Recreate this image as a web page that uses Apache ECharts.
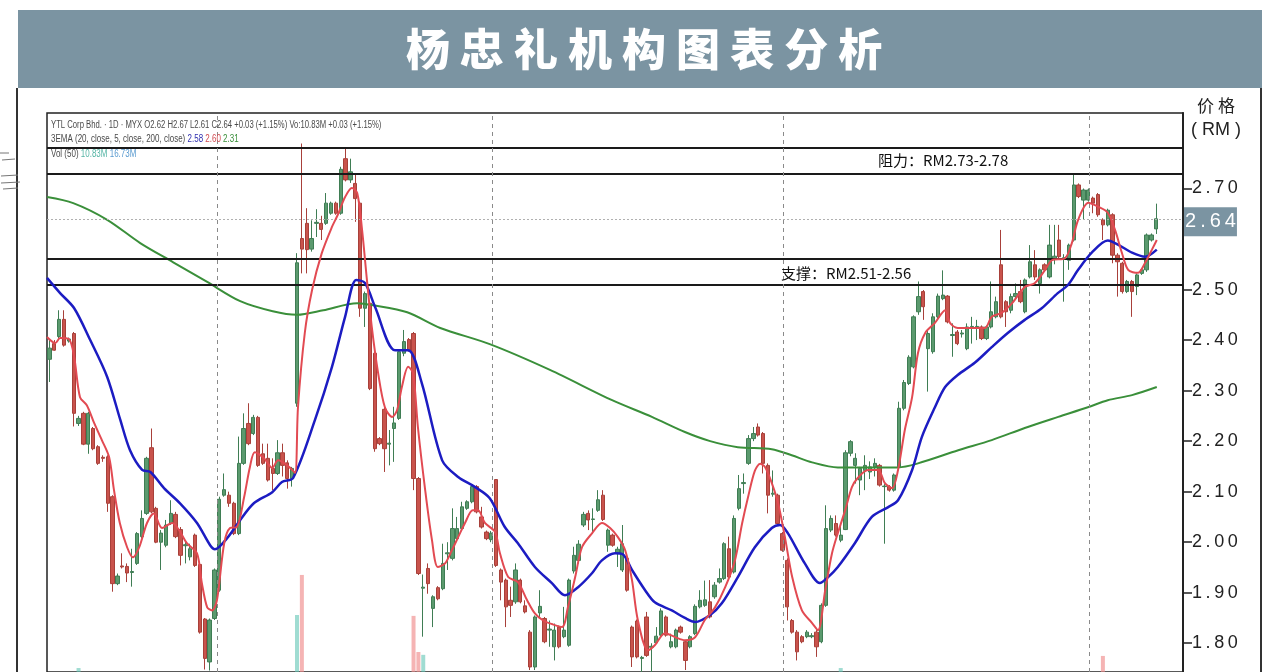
<!DOCTYPE html>
<html><head><meta charset="utf-8">
<script src="https://cdn.jsdelivr.net/npm/echarts@6/dist/echarts.min.js"></script>
<style>html,body{margin:0;padding:0;background:#fff;}#c{width:1280px;height:672px;}</style>
</head><body><div id="c"></div>
<script>
// ---- data ----
const slotCount = 234; // 229 daily candles + empty right margin
const priceTicks = [1.8, 1.9, 2.0, 2.1, 2.2, 2.3, 2.4, 2.5, 2.7];
const resistance = [2.73, 2.78];
const support = [2.51, 2.56];
const lastPrice = 2.64;
const periodLines = [34.5, 91.2, 151.1, 214.1];
// [open, close, low, high]
const candles = [
[2.362,2.384,2.317,2.400],[2.393,2.380,2.379,2.400],[2.407,2.441,2.403,2.459],[2.441,2.390,2.387,2.459],
[2.398,2.402,2.395,2.405],[2.413,2.255,2.229,2.416],[2.235,2.245,2.230,2.250],[2.255,2.194,2.192,2.258],
[2.194,2.255,2.175,2.258],[2.225,2.185,2.182,2.228],[2.189,2.156,2.153,2.192],[2.168,2.166,2.159,2.172],
[2.169,2.077,2.060,2.172],[2.090,1.918,1.902,2.093],[1.918,1.933,1.915,1.938],[1.953,1.951,1.948,1.978],
[1.952,1.939,1.921,1.958],[1.940,1.942,1.912,1.987],[1.958,2.017,1.955,2.020],[2.011,2.047,2.008,2.063],
[2.057,2.166,2.054,2.169],[2.187,2.060,2.057,2.225],[2.067,2.000,1.998,2.070],[2.000,2.018,1.945,2.024],
[1.994,2.034,1.990,2.044],[2.037,2.057,2.034,2.083],[2.055,2.011,2.008,2.060],[2.025,1.974,1.954,2.030],
[1.993,1.995,1.958,2.004],[1.971,1.987,1.964,1.997],[2.014,1.954,1.951,2.017],[1.956,1.822,1.819,1.961],
[1.848,1.770,1.748,1.850],[1.763,1.846,1.746,1.849],[1.849,1.945,1.846,1.948],[1.905,2.085,1.902,2.090],
[2.093,2.104,2.090,2.136],[2.093,2.077,2.070,2.100],[2.077,2.017,2.014,2.080],[2.017,2.156,2.014,2.209],
[2.156,2.225,2.153,2.255],[2.235,2.195,2.192,2.275],[2.215,2.247,2.212,2.252],[2.247,2.152,2.149,2.250],
[2.175,2.156,2.153,2.195],[2.166,2.123,2.120,2.195],
[2.146,2.136,2.103,2.166],[2.136,2.177,2.133,2.202],[2.177,2.152,2.130,2.195],[2.157,2.126,2.106,2.162],
[2.126,2.146,2.110,2.149],[2.275,2.553,2.268,2.572],[2.601,2.580,2.532,2.789],[2.631,2.579,2.532,2.661],
[2.580,2.601,2.575,2.637],[2.631,2.633,2.604,2.659],[2.631,2.619,2.598,2.646],[2.631,2.671,2.628,2.691],
[2.651,2.671,2.648,2.674],[2.671,2.651,2.648,2.674],[2.651,2.738,2.648,2.743],[2.759,2.717,2.714,2.779],
[2.717,2.733,2.711,2.759],[2.710,2.680,2.634,2.730],[2.671,2.463,2.446,2.674],[2.463,2.492,2.426,2.496],
[2.473,2.304,2.301,2.476],[2.374,2.185,2.179,2.377],[2.205,2.195,2.192,2.208],[2.263,2.185,2.139,2.268],
[2.194,2.196,2.152,2.222],[2.225,2.236,2.159,2.268],[2.245,2.377,2.242,2.380],[2.374,2.397,2.368,2.420],
[2.401,2.380,2.377,2.404],[2.413,2.126,2.103,2.416],[2.126,1.938,1.935,2.129],[1.909,1.911,1.813,1.936],
[1.948,1.918,1.898,1.958],[1.869,1.892,1.832,1.895],[1.910,1.888,1.885,1.913],[1.908,1.958,1.905,1.997],
[1.977,1.979,1.945,2.000],[1.968,2.027,1.964,2.067],[2.007,2.027,2.004,2.050],[2.027,2.070,2.024,2.080],
[2.067,2.080,2.064,2.083],[2.080,2.110,2.077,2.113],[2.110,2.060,2.057,2.113],[2.050,2.030,2.027,2.070],
[2.020,2.007,2.004,2.023],
[2.005,2.018,2.000,2.022],[2.124,1.954,1.951,2.125],[1.945,1.921,1.885,1.948],[1.925,1.872,1.832,1.928],
[1.885,1.875,1.852,1.912],[1.882,1.945,1.878,1.958],[1.925,1.882,1.879,1.928],[1.874,1.862,1.859,1.885],
[1.822,1.753,1.747,1.826],[1.753,1.852,1.747,1.855],[1.860,1.873,1.852,1.905],[1.849,1.803,1.800,1.852],
[1.826,1.828,1.793,1.845],[1.793,1.826,1.766,1.839],[1.832,1.793,1.790,1.835],[1.813,1.826,1.810,1.872],
[1.796,1.925,1.793,1.928],[1.943,1.974,1.938,1.991],[1.964,1.996,1.958,2.004],[2.034,2.055,2.030,2.060],
[2.057,2.044,2.024,2.063],[2.045,2.046,2.017,2.067],[2.063,2.084,2.060,2.103],[2.093,2.045,2.042,2.103],
[1.994,2.024,1.981,2.027],[2.014,1.994,1.991,2.017],[1.978,1.986,1.951,1.991],[1.945,1.997,1.941,2.034],
[1.968,1.905,1.902,1.971],[1.832,1.773,1.753,1.835],[1.844,1.773,1.770,1.847],[1.770,1.772,1.743,1.775],
[1.852,1.776,1.773,1.862],[1.792,1.794,1.743,1.800],[1.801,1.814,1.800,1.832],[1.816,1.864,1.813,1.869],
[1.852,1.816,1.813,1.855],[1.793,1.803,1.790,1.819],[1.793,1.826,1.790,1.829],[1.832,1.822,1.819,1.835],
[1.803,1.766,1.747,1.806],[1.793,1.813,1.790,1.816],[1.819,1.873,1.816,1.877],[1.872,1.885,1.869,1.905],
[1.875,1.886,1.872,1.924],
[1.882,1.852,1.849,1.925],[1.892,1.915,1.888,1.921],[1.921,1.928,1.918,1.948],[1.928,1.997,1.925,2.000],
[1.987,1.931,1.928,2.011],[1.941,2.047,1.938,2.053],[2.067,2.106,2.063,2.133],[2.116,2.118,2.096,2.136],
[2.156,2.205,2.153,2.212],[2.205,2.215,2.200,2.228],[2.228,2.212,2.209,2.235],[2.215,2.156,2.136,2.218],
[2.152,2.093,2.057,2.156],[2.095,2.097,2.090,2.142],[2.093,2.037,2.034,2.096],[2.017,1.984,1.981,2.020],
[1.964,1.872,1.845,1.968],[1.845,1.822,1.819,1.848],[1.822,1.783,1.766,1.826],[1.813,1.803,1.800,1.816],
[1.813,1.822,1.810,1.826],[1.813,1.815,1.810,1.820],[1.822,1.793,1.773,1.826],[1.803,1.875,1.800,1.879],
[1.875,2.027,1.872,2.073],[2.024,2.047,2.020,2.053],[2.037,2.014,2.011,2.053],[2.004,2.014,2.000,2.037],
[2.025,2.177,2.024,2.182],[2.176,2.199,2.170,2.202],[2.152,2.166,2.116,2.176],[2.123,2.146,2.093,2.149],
[2.142,2.152,2.103,2.172],[2.139,2.149,2.125,2.160],[2.149,2.156,2.130,2.166],[2.152,2.113,2.110,2.155],
[2.110,2.111,1.997,2.115],[2.110,2.103,2.100,2.113],[2.103,2.133,2.100,2.136],[2.149,2.265,2.146,2.278],
[2.265,2.316,2.261,2.321],[2.314,2.366,2.311,2.370],[2.347,2.446,2.344,2.449],[2.456,2.486,2.450,2.516],
[2.496,2.466,2.440,2.499],[2.383,2.413,2.298,2.420],
[2.377,2.446,2.373,2.453],[2.446,2.487,2.443,2.492],[2.482,2.489,2.479,2.538],[2.487,2.436,2.433,2.489],
[2.409,2.411,2.367,2.433],[2.416,2.393,2.390,2.420],[2.412,2.414,2.405,2.420],[2.383,2.426,2.380,2.433],
[2.425,2.427,2.393,2.446],[2.425,2.427,2.400,2.440],[2.426,2.403,2.400,2.429],[2.403,2.426,2.400,2.429],
[2.426,2.456,2.423,2.516],[2.446,2.476,2.443,2.486],[2.549,2.446,2.443,2.618],[2.476,2.456,2.426,2.479],
[2.459,2.486,2.453,2.492],[2.486,2.492,2.483,2.512],[2.496,2.476,2.473,2.519],[2.456,2.519,2.453,2.522],
[2.525,2.555,2.522,2.588],[2.549,2.525,2.519,2.578],[2.512,2.539,2.492,2.542],[2.549,2.539,2.536,2.552],
[2.525,2.588,2.522,2.628],[2.560,2.566,2.550,2.628],[2.598,2.565,2.562,2.628],[2.561,2.563,2.476,2.570],
[2.558,2.588,2.539,2.591],[2.598,2.707,2.595,2.730],[2.707,2.684,2.681,2.710],[2.677,2.697,2.638,2.700],
[2.677,2.697,2.674,2.700],[2.681,2.671,2.651,2.684],[2.688,2.648,2.644,2.691],[2.638,2.628,2.598,2.641],
[2.628,2.657,2.625,2.660],[2.648,2.568,2.552,2.651],[2.568,2.555,2.486,2.572],[2.552,2.496,2.492,2.555],
[2.496,2.516,2.493,2.519],[2.516,2.496,2.446,2.519],[2.506,2.529,2.489,2.532],[2.532,2.539,2.529,2.542],
[2.539,2.608,2.535,2.611],[2.598,2.608,2.595,2.611],[2.620,2.640,2.610,2.670]
];
// EMA readings: [bar position, value]
const ema5 = [[-0.5,2.406],[1.2,2.394],[2.2,2.404],[4.0,2.402],[5.1,2.366],[6.3,2.287],[7.7,2.271],[9.2,2.236],[10.8,2.202],[12.3,2.168],[13.3,2.103],[14.5,2.038],[16.0,1.990],[17.2,1.970],[18.5,1.990],[20.1,2.038],[21.5,2.057],[23.2,2.028],[25.3,2.038],[26.7,2.024],[28.3,1.998],[30.4,1.978],[31.4,1.919],[32.5,1.871],[33.5,1.865],[34.5,1.885],[36.0,1.998],[37.2,2.028],[38.6,2.030],[40.1,2.089],[41.3,2.149],[42.3,2.178],[44.2,2.166],[45.9,2.147],[47.1,2.162],[49.6,2.147],[50.6,2.137],[51.2,2.267],[52.6,2.414],[54.1,2.499],[56.1,2.572],[58.2,2.624],[59.4,2.648],[60.9,2.683],[62.3,2.701],[63.4,2.691],[64.4,2.618],[65.4,2.519],[66.4,2.426],[67.7,2.335],[69.1,2.267],[70.6,2.248],[71.6,2.261],[72.6,2.307],[73.9,2.347],[74.9,2.335],[75.9,2.228],[77.4,2.103],[78.8,2.004],[80.0,1.951],[81.5,1.958],[82.9,1.984],[84.2,2.010],[85.6,2.038],[87.2,2.063],[88.3,2.063],[89.7,2.038],[91.8,2.020],[92.8,1.978],[94.5,1.931],[96.5,1.921],[98.4,1.885],[100.0,1.859],[101.7,1.845],[103.5,1.838],[105.6,1.832],[106.8,1.871],[108.3,1.931],[109.7,1.990],[111.8,2.018],[113.8,2.038],[115.5,2.028],[117.1,2.010],[118.6,1.984],[120.0,1.925],[121.2,1.846],[123.3,1.786],[124.7,1.796],[126.8,1.820],[128.9,1.812],[130.9,1.806],[133.0,1.812],[135.0,1.846],[137.1,1.871],[139.2,1.911],[141.2,1.964],[142.7,2.038],[143.9,2.089],[145.3,2.141],[146.4,2.155],[147.4,2.149],[148.8,2.117],[150.1,2.077],[151.5,2.010],[153.0,1.931],[155.0,1.865],[157.1,1.840],[158.3,1.826],[159.8,1.905],[161.2,1.978],[162.4,2.018],[163.9,2.063],[165.3,2.109],[166.5,2.127],[168.6,2.143],[170.7,2.143],[172.1,2.117],[173.6,2.107],[174.8,2.143],[176.2,2.222],[177.7,2.287],[178.9,2.374],[180.4,2.414],[182.4,2.434],[184.5,2.459],[185.5,2.434],[187.1,2.424],[190.0,2.424],[192.7,2.424],[194.1,2.446],[196.2,2.454],[198.3,2.473],[200.9,2.505],[203.0,2.513],[205.1,2.539],[206.5,2.558],[209.2,2.562],[210.6,2.592],[211.9,2.638],[214.0,2.672],[216.0,2.664],[218.0,2.652],[219.5,2.618],[220.9,2.573],[222.2,2.539],[224.2,2.533],[225.7,2.553],[227.1,2.579],[228.1,2.598]];
const ema20 = [[-0.5,2.523],[2.2,2.493],[5.1,2.463],[8.4,2.400],[11.9,2.327],[14.6,2.242],[16.6,2.182],[19.1,2.143],[20.8,2.139],[23.6,2.107],[26.9,2.077],[30.4,2.038],[33.1,1.994],[34.1,1.986],[36.6,2.008],[39.3,2.044],[42.1,2.077],[45.9,2.099],[47.9,2.119],[50.2,2.127],[54.7,2.242],[58.2,2.347],[60.9,2.446],[63.2,2.519],[65.0,2.513],[67.1,2.465],[71.2,2.380],[73.9,2.380],[76.7,2.315],[80.9,2.162],[84.2,2.129],[87.7,2.109],[90.7,2.087],[93.8,2.030],[96.5,1.998],[100.0,1.951],[103.5,1.919],[106.2,1.895],[108.9,1.911],[111.8,1.939],[113.8,1.964],[116.5,1.978],[118.1,1.976],[120.0,1.945],[122.7,1.905],[124.7,1.881],[128.2,1.865],[130.9,1.850],[133.0,1.842],[136.1,1.856],[138.5,1.879],[141.8,1.931],[145.3,1.990],[148.8,2.028],[150.5,2.034],[152.1,2.018],[155.6,1.958],[158.7,1.919],[160.4,1.931],[162.4,1.951],[165.9,1.998],[169.4,2.050],[172.7,2.069],[174.8,2.083],[177.7,2.143],[179.7,2.208],[182.4,2.267],[184.5,2.307],[187.1,2.331],[190.6,2.355],[194.1,2.386],[197.4,2.414],[200.9,2.440],[204.4,2.463],[207.7,2.493],[209.8,2.509],[211.9,2.539],[214.7,2.573],[218.0,2.597],[220.1,2.589],[223.0,2.573],[225.7,2.565],[228.1,2.579]];
const ema200 = [[-0.5,2.683],[4.9,2.671],[11.9,2.638],[18.7,2.592],[25.5,2.554],[32.5,2.515],[39.3,2.477],[46.0,2.457],[51.0,2.450],[56.4,2.459],[63.4,2.473],[66.7,2.469],[73.7,2.455],[80.5,2.424],[90.7,2.392],[103.1,2.341],[115.9,2.281],[124.1,2.248],[130.9,2.218],[136.1,2.200],[141.8,2.188],[148.8,2.184],[152.9,2.172],[157.1,2.158],[162.4,2.148],[169.4,2.148],[174.8,2.148],[178.9,2.156],[187.2,2.182],[194.1,2.202],[200.9,2.226],[207.8,2.248],[213.9,2.267],[218.0,2.281],[223.0,2.291],[228.1,2.307]];
// visible volume bars (millions): [bar, volume]
const volUp = [[6,14.5],[51,38.6],[77,20.5],[163,14.5]];
const volDown = [[52,56.8],[75,38.2],[76,21.8],[217,20.0]];

// ---- chart ----
const categories = Array.from({length: slotCount}, (_, i) => String(i));
const spaced = s => s.split('').join('\u2009');
const FONT = '"Liberation Sans", Arial, sans-serif';
const chart = echarts.init(document.getElementById('c'), null, {renderer: 'canvas'});
const hLine = (v) => ({yAxis: v, lineStyle: {color: '#1a1a1a', width: 2, type: 'solid'}, label: {show: false}});
const infoStyle = {fill: '#4a4a4a', fontSize: 10, fontFamily: FONT, textVerticalAlign: 'middle'};
const rich = c => ({fill: c, fontSize: 10, fontFamily: FONT});
const scrap = (x1, y1, x2, y2) => ({type: 'line', shape: {x1, y1, x2, y2}, style: {stroke: '#777', lineWidth: 1}, z: 10});

chart.setOption({
  animation: false,
  backgroundColor: '#ffffff',
  grid: [
    {left: 47, right: 97, top: 113, bottom: 0, show: true, borderColor: '#222', borderWidth: 1.5, backgroundColor: 'transparent'},
    {left: 47, right: 97, top: 400, bottom: 0}
  ],
  xAxis: [
    {type: 'category', data: categories, gridIndex: 0, boundaryGap: true, show: false},
    {type: 'value', min: -0.5, max: slotCount - 0.5, gridIndex: 0, show: false},
    {type: 'category', data: categories, gridIndex: 1, boundaryGap: true, show: false}
  ],
  yAxis: [
    {type: 'value', gridIndex: 0, position: 'right', min: 1.7431, max: 2.8494, scale: true,
     axisLine: {show: true, onZero: false, lineStyle: {color: '#222', width: 2}},
     axisTick: {show: true, inside: false, length: 9, customValues: priceTicks, lineStyle: {color: '#222', width: 1.5}},
     axisLabel: {show: true, customValues: priceTicks, margin: 9, fontSize: 18, color: '#222', fontFamily: FONT,
                 formatter: v => spaced(Number(v).toFixed(2))},
     splitLine: {show: false}},
    {type: 'value', gridIndex: 1, min: 12.7, max: 136.3, show: false}
  ],
  series: [
    {type: 'bar', name: 'volUp', xAxisIndex: 2, yAxisIndex: 1, data: volUp, barWidth: 4, barGap: '-100%', clip: true,
     itemStyle: {color: 'rgba(96,196,180,0.6)'}, z: 1, silent: true},
    {type: 'bar', name: 'volDown', xAxisIndex: 2, yAxisIndex: 1, data: volDown, barWidth: 4, barGap: '-100%', clip: true,
     itemStyle: {color: 'rgba(240,140,140,0.65)'}, z: 1, silent: true},
    {type: 'candlestick', name: 'YTL', xAxisIndex: 0, yAxisIndex: 0, data: candles, barWidth: 3.8,
     itemStyle: {color: '#5b9a6e', color0: '#c9534c', borderColor: '#3f7d54', borderColor0: '#a8403a', borderWidth: 1},
     z: 3,
     markLine: {silent: true, symbol: ['none', 'none'], animation: false,
       data: [
         hLine(resistance[1]), hLine(resistance[0]), hLine(support[1]), hLine(support[0]),
         {yAxis: lastPrice, lineStyle: {color: '#b0b0b0', width: 1, type: [2, 2]},
          label: {show: true, position: 'end', distance: 1, formatter: spaced(lastPrice.toFixed(2)),
                  color: '#fff', backgroundColor: '#7b94a2', fontSize: 20, fontFamily: FONT,
                  padding: [5, 1, 4, 1], offset: [0, 3]}}
       ]}
    },
    {type: 'line', name: 'EMA200', xAxisIndex: 1, yAxisIndex: 0, data: ema200, showSymbol: false, smooth: 0.3,
     lineStyle: {color: '#3a8f3a', width: 2}, z: 4, silent: true,
     markLine: {silent: true, symbol: ['none', 'none'],
       lineStyle: {color: '#8a8a8a', width: 1, type: [4, 4]}, label: {show: false},
       data: periodLines.map(v => ({xAxis: v}))}},
    {type: 'line', name: 'EMA20', xAxisIndex: 1, yAxisIndex: 0, data: ema20, showSymbol: false, smooth: 0.3,
     lineStyle: {color: '#1c1cc2', width: 2.5}, z: 5, silent: true},
    {type: 'line', name: 'EMA5', xAxisIndex: 1, yAxisIndex: 0, data: ema5, showSymbol: false, smooth: 0.3,
     lineStyle: {color: '#e24a52', width: 2}, z: 6, silent: true}
  ],
  graphic: [
    {type: 'rect', shape: {x: 18, y: 10, width: 1244, height: 78}, style: {fill: '#7b94a2'}, z: 10},
    {type: 'text', x: 644, y: 49, z: 11,
     style: {text: '杨 忠 礼 机 构 图 表 分 析', fill: '#fff', fontSize: 44, fontWeight: 900,
             fontFamily: '"Noto Sans CJK SC", sans-serif', textAlign: 'center', textVerticalAlign: 'middle'}},
    {type: 'line', shape: {x1: 17, y1: 88, x2: 17, y2: 672}, style: {stroke: '#333', lineWidth: 2}, z: 10},
    {type: 'line', shape: {x1: 1261, y1: 88, x2: 1261, y2: 672}, style: {stroke: '#333', lineWidth: 2}, z: 10},
    scrap(0, 153, 9, 153), scrap(2, 160, 15, 159), scrap(1, 176, 18, 175), scrap(1, 183, 20, 182), scrap(3, 189, 18, 188),
    {type: 'text', x: 1216, y: 106, z: 11,
     style: {text: '价 格', fill: '#222', fontSize: 17, fontFamily: '"Noto Sans CJK SC", sans-serif', textAlign: 'center', textVerticalAlign: 'middle'}},
    {type: 'text', x: 1216, y: 130, z: 11,
     style: {text: '( RM )', fill: '#222', fontSize: 18, fontFamily: FONT, textAlign: 'center', textVerticalAlign: 'middle'}},
    {type: 'text', x: 51, y: 125, z: 11, scaleX: 0.77,
     style: Object.assign({text: 'YTL Corp Bhd. · 1D · MYX O2.62 H2.67 L2.61 C2.64 +0.03 (+1.15%) Vo:10.83M +0.03 (+1.15%)'}, infoStyle)},
    {type: 'text', x: 51, y: 139, z: 11, scaleX: 0.8,
     style: Object.assign({text: '3EMA (20, close, 5, close, 200, close) {b|2.58} {r|2.60} {g|2.31}',
             rich: {b: rich('#3030b0'), r: rich('#d04a50'), g: rich('#3a8f3a')}}, infoStyle)},
    {type: 'text', x: 51, y: 154, z: 11, scaleX: 0.8,
     style: Object.assign({text: 'Vol (50) {t|10.83M} {u|16.73M}',
             rich: {t: rich('#55b5a5'), u: rich('#5a9bd0')}}, infoStyle)},
    {type: 'text', x: 878, y: 160, z: 11,
     style: {text: '阻力：RM2.73-2.78', fill: '#111', fontSize: 15, fontFamily: '"Noto Sans CJK SC", sans-serif', textVerticalAlign: 'middle'}},
    {type: 'text', x: 781, y: 273, z: 11,
     style: {text: '支撑：RM2.51-2.56', fill: '#111', fontSize: 15, fontFamily: '"Noto Sans CJK SC", sans-serif', textVerticalAlign: 'middle'}}
  ]
});
</script></body></html>
